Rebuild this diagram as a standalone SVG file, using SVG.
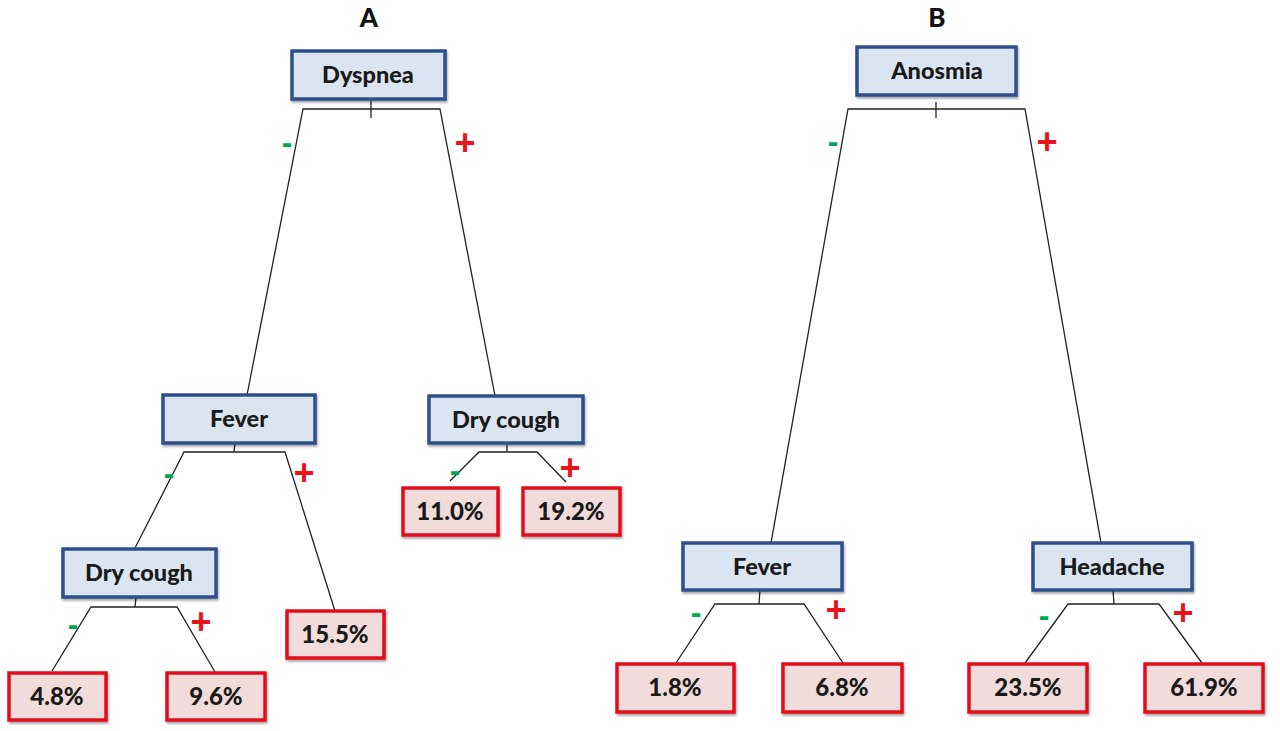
<svg xmlns="http://www.w3.org/2000/svg" width="1280" height="731" viewBox="0 0 1280 731">
<defs>
<filter id="sh" x="-10%" y="-10%" width="130%" height="140%">
<feDropShadow dx="1" dy="2" stdDeviation="1.2" flood-color="#000" flood-opacity="0.35"/>
</filter>
<style>
.node rect{fill:#dbe5f1;stroke:#2e5089;stroke-width:3.5;filter:url(#sh)}
.leaf rect{fill:#f2dcdb;stroke:#e2101e;stroke-width:3.5;filter:url(#sh)}
.node text{font-family:Lato,"Liberation Sans",sans-serif;font-weight:900;font-size:23.5px;fill:#1a1a1a;text-anchor:middle}
.leaf text{font-family:Lato,"Liberation Sans",sans-serif;font-weight:900;font-size:24px;fill:#1a1a1a;text-anchor:middle}
.title{font-family:Lato,"Liberation Sans",sans-serif;font-weight:900;font-size:26px;fill:#111;text-anchor:middle}
.conn line,.conn polyline{stroke:#222;stroke-width:1.3;fill:none}
.neg{font-family:"Liberation Sans",sans-serif;font-weight:bold;font-size:32px;fill:#00a651;text-anchor:middle}
.pos{font-family:"Liberation Sans",sans-serif;font-weight:bold;font-size:36px;fill:#e8141c;text-anchor:middle}
</style>
</defs>
<rect width="1280" height="731" fill="#fff"/>
<text class="title" x="369" y="27">A</text>
<text class="title" x="937" y="27">B</text>
<g id="connectors" class="conn">
<line x1="371" y1="99" x2="371" y2="118"/>
<polyline points="247,395 303,109 440,109 495,396"/>
<line x1="235" y1="443" x2="234" y2="452"/>
<polyline points="135,548 184,452 285,452 335,611"/>
<line x1="136" y1="597" x2="135" y2="607"/>
<polyline points="52,671 91,607 177,607 215,672"/>
<line x1="507" y1="443" x2="507" y2="452"/>
<polyline points="450,481 479,452 537,452 566,482"/>
<line x1="936" y1="102" x2="936" y2="118"/>
<polyline points="771,543 848,109 1025,109 1101,543"/>
<line x1="760" y1="590" x2="759" y2="604"/>
<polyline points="676,663 715,604 804,604 843,663"/>
<line x1="1113" y1="590" x2="1114" y2="604"/>
<polyline points="1025,663 1068,604 1159,604 1202,663"/>
</g>
<g id="signs">
<text class="neg" x="287" y="153">-</text>
<text class="pos" x="465" y="155">+</text>
<text class="neg" x="169" y="484">-</text>
<text class="pos" x="304" y="485">+</text>
<text class="neg" x="73" y="635">-</text>
<text class="pos" x="201" y="634">+</text>
<text class="neg" x="455" y="481">-</text>
<text class="pos" x="570" y="480">+</text>
<text class="neg" x="833" y="152">-</text>
<text class="pos" x="1047" y="154">+</text>
<text class="neg" x="696" y="623">-</text>
<text class="pos" x="836" y="622">+</text>
<text class="neg" x="1044" y="626">-</text>
<text class="pos" x="1183" y="625">+</text>
</g>
<g id="n-dyspnea" class="node"><rect x="292" y="51" width="153" height="48"/><text x="368" y="83">Dyspnea</text></g>
<g id="n-feverA" class="node"><rect x="163" y="395" width="152" height="48"/><text x="239" y="427">Fever</text></g>
<g id="n-drycoughA1" class="node"><rect x="63" y="549" width="153" height="48"/><text x="139" y="581">Dry cough</text></g>
<g id="n-drycoughA2" class="node"><rect x="429" y="396" width="154" height="47"/><text x="506" y="428">Dry cough</text></g>
<g id="l-48" class="leaf"><rect x="9" y="673" width="97" height="47"/><text x="57" y="705">4.8%</text></g>
<g id="l-96" class="leaf"><rect x="167" y="673" width="98" height="47"/><text x="216" y="705">9.6%</text></g>
<g id="l-155" class="leaf"><rect x="287" y="611" width="97" height="47"/><text x="335" y="643">15.5%</text></g>
<g id="l-110" class="leaf"><rect x="403" y="488" width="95" height="47"/><text x="450" y="520">11.0%</text></g>
<g id="l-192" class="leaf"><rect x="523" y="488" width="97" height="47"/><text x="571" y="520">19.2%</text></g>
<g id="n-anosmia" class="node"><rect x="857" y="47" width="159" height="48"/><text x="937" y="79">Anosmia</text></g>
<g id="n-feverB" class="node"><rect x="683" y="543" width="159" height="47"/><text x="762" y="575">Fever</text></g>
<g id="n-headache" class="node"><rect x="1033" y="543" width="159" height="47"/><text x="1112" y="575">Headache</text></g>
<g id="l-18" class="leaf"><rect x="617" y="664" width="117" height="48"/><text x="675" y="696">1.8%</text></g>
<g id="l-68" class="leaf"><rect x="783" y="664" width="119" height="48"/><text x="842" y="696">6.8%</text></g>
<g id="l-235" class="leaf"><rect x="969" y="664" width="118" height="48"/><text x="1028" y="696">23.5%</text></g>
<g id="l-619" class="leaf"><rect x="1145" y="664" width="118" height="48"/><text x="1204" y="696">61.9%</text></g>
</svg>
